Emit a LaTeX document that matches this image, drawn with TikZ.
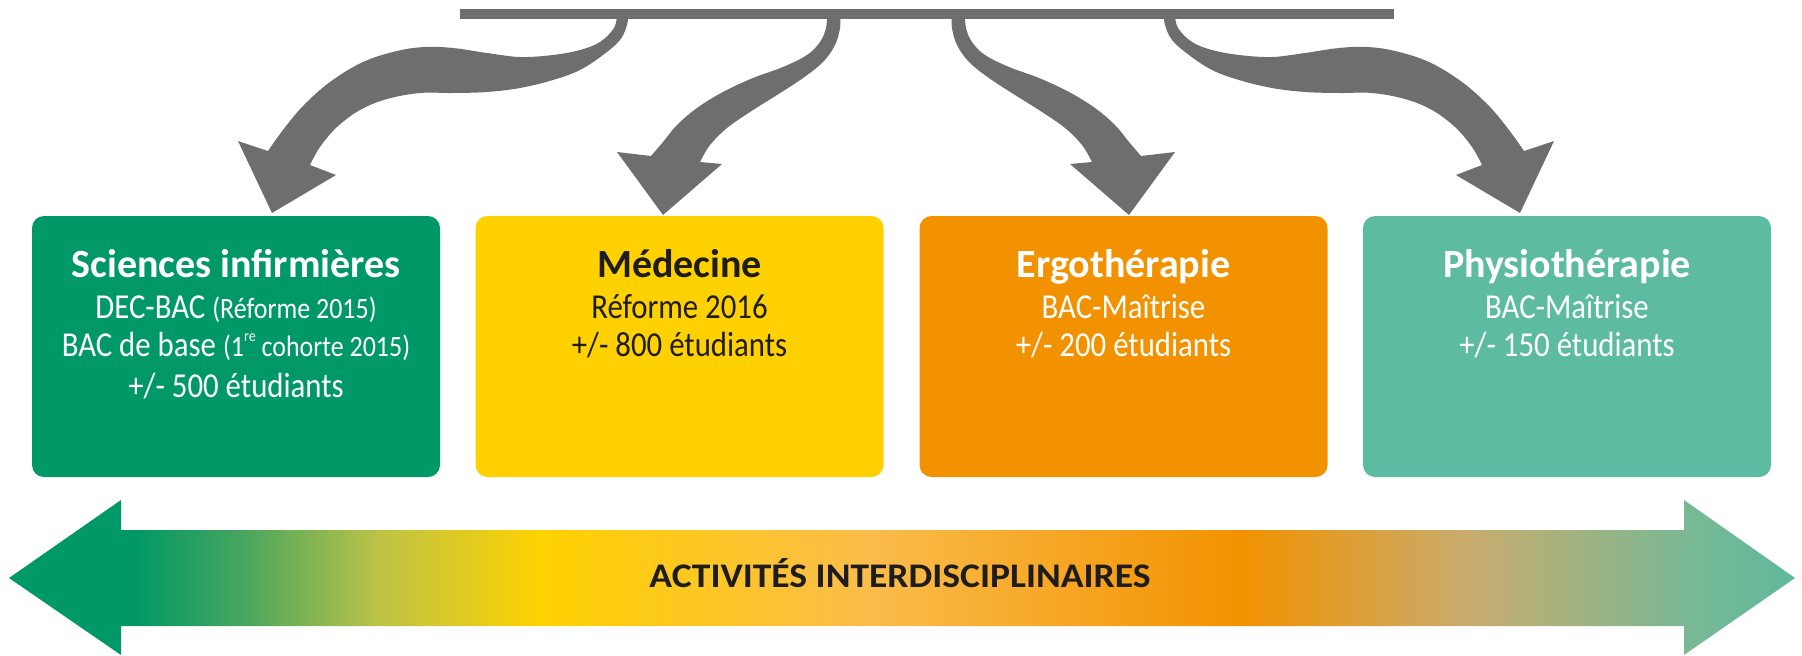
\documentclass[tikz,border=0pt]{standalone}
\usepackage{fontspec}
\setmainfont{Carlito}
\newfontfamily\bodyfont[FakeStretch=0.88]{Carlito}
\newfontfamily\actfont[FakeStretch=1.09]{Carlito}
\definecolor{cgreen}{RGB}{0,152,102}
\definecolor{cyellow}{RGB}{255,209,0}
\definecolor{corange}{RGB}{242,146,0}
\definecolor{cteal}{RGB}{92,187,160}
\definecolor{cgray}{RGB}{110,110,110}
\definecolor{cdark}{RGB}{30,28,28}
\definecolor{gA}{RGB}{70,165,95}
\definecolor{gB}{RGB}{190,195,70}
\definecolor{gC}{RGB}{255,210,0}
\definecolor{gD}{RGB}{250,188,75}
\definecolor{gE}{RGB}{242,146,0}
\definecolor{gF}{RGB}{200,172,110}
\definecolor{gG}{RGB}{118,185,150}
\definecolor{gH}{RGB}{95,185,155}
\pgfdeclarehorizontalshading{interd}{100bp}{%
 color(0bp)=(cgreen); color(25bp)=(cgreen); color(28.5bp)=(cgreen);
 color(31.5bp)=(gA); color(35.4bp)=(gB); color(39.9bp)=(gC);
 color(49.1bp)=(gD); color(59.5bp)=(gE); color(65.9bp)=(gF);
 color(72.3bp)=(gG); color(75bp)=(gH); color(100bp)=(gH)}
\tikzset{
 box/.style={rounded corners=12pt, minimum width=408pt, minimum height=261pt, inner sep=0pt},
 ttl/.style={anchor=base, inner sep=0pt, font=\fontsize{40}{46}\selectfont\bfseries},
 txt/.style={anchor=base, inner sep=0pt, font=\bodyfont\fontsize{35}{40}\selectfont},
 garrow/.style={fill=cgray},
}
\newcommand{\smtxt}[1]{{\fontsize{29.5}{34}\selectfont #1}}
\begin{document}
\begin{tikzpicture}[x=1pt,y=-1pt]
\useasboundingbox[fill=white] (0,0) rectangle (1802,656);
% top bar
\coordinate (barL) at (460,14);
\coordinate (barR) at (1394,14);
\draw[cgray, line width=10pt] (barL) -- (barR);
% boxes
\node[box, fill=cgreen]  (si) at (236,346.5) {};
\node[box, fill=cyellow] (me) at (679.5,346.5) {};
\node[box, fill=corange] (er) at (1123.5,346.5) {};
\node[box, fill=cteal]   (ph) at (1567,346.5) {};
% curved arrows (left two, then mirrored)
\def\arrowA{%
\fill[garrow] plot[smooth, tension=0.6] coordinates {(617,15) (614,28) (600,42) (580,50) (553,55) (520,57) (487,53) (453,48) (425,47) (397,51) (363,62) (330,82) (303,106) (283,130) (268,151)}
 -- (238,141) -- (272,213) -- (336,175) --
 plot[smooth, tension=0.6] coordinates {(310,165) (320,147) (337,127) (360,110) (387,99) (420,93) (453,93) (487,92) (520,88) (553,80) (580,70) (603,55) (620,40) (627,25) (628,15)} -- cycle;}
\def\arrowB{%
\fill[garrow] plot[smooth, tension=0.6] coordinates {(827,15) (826,28) (820,42) (807,55) (783,67) (753,78) (723,92) (697,108) (677,125) (663,142) (651,156)}
 -- (617,152) -- (663,215) -- (722,164) --
 plot[smooth, tension=0.6] coordinates {(700,162) (710,145) (727,128) (750,112) (777,95) (803,78) (823,62) (835,45) (840,28) (840,15)} -- cycle;}
\arrowA
\arrowB
\begin{scope}[xshift=1792pt, xscale=-1]
\arrowA
\arrowB
\end{scope}
% texts
\node[ttl, text=white] (si1) at (236,277) {Sciences infirmières};
\node[txt, text=white] (si2) at (236,318) {DEC-BAC \smtxt{(Réforme 2015)}};
\node[txt, text=white] (si3) at (236,356) {BAC de base \smtxt{(1\raisebox{0.5em}{\fontsize{16}{16}\selectfont re} cohorte 2015)}};
\node[txt, text=white] (si4) at (236,397) {+/- 500 étudiants};
\node[ttl, text=cdark] (me1) at (679.5,277) {Médecine};
\node[txt, text=cdark] (me2) at (679.5,318) {Réforme 2016};
\node[txt, text=cdark] (me3) at (679.5,356) {+/- 800 étudiants};
\node[ttl, text=white] (er1) at (1123.5,277) {Ergothérapie};
\node[txt, text=white] (er2) at (1123.5,318) {BAC-Maîtrise};
\node[txt, text=white] (er3) at (1123.5,356) {+/- 200 étudiants};
\node[ttl, text=white] (ph1) at (1567,277) {Physiothérapie};
\node[txt, text=white] (ph2) at (1567,318) {BAC-Maîtrise};
\node[txt, text=white] (ph3) at (1567,356) {+/- 150 étudiants};
% bottom double arrow
\path[shading=interd] (9,578) -- (121,500) -- (121,530) -- (1684,530) -- (1684,500) -- (1795,578) -- (1684,655) -- (1684,626) -- (121,626) -- (121,655) -- cycle;
\node[anchor=base, inner sep=0pt, text=cdark, font=\actfont\bfseries\fontsize{34.5}{40}\selectfont] (act) at (900,587) {ACTIVITÉS INTERDISCIPLINAIRES};
\end{tikzpicture}
\end{document}
